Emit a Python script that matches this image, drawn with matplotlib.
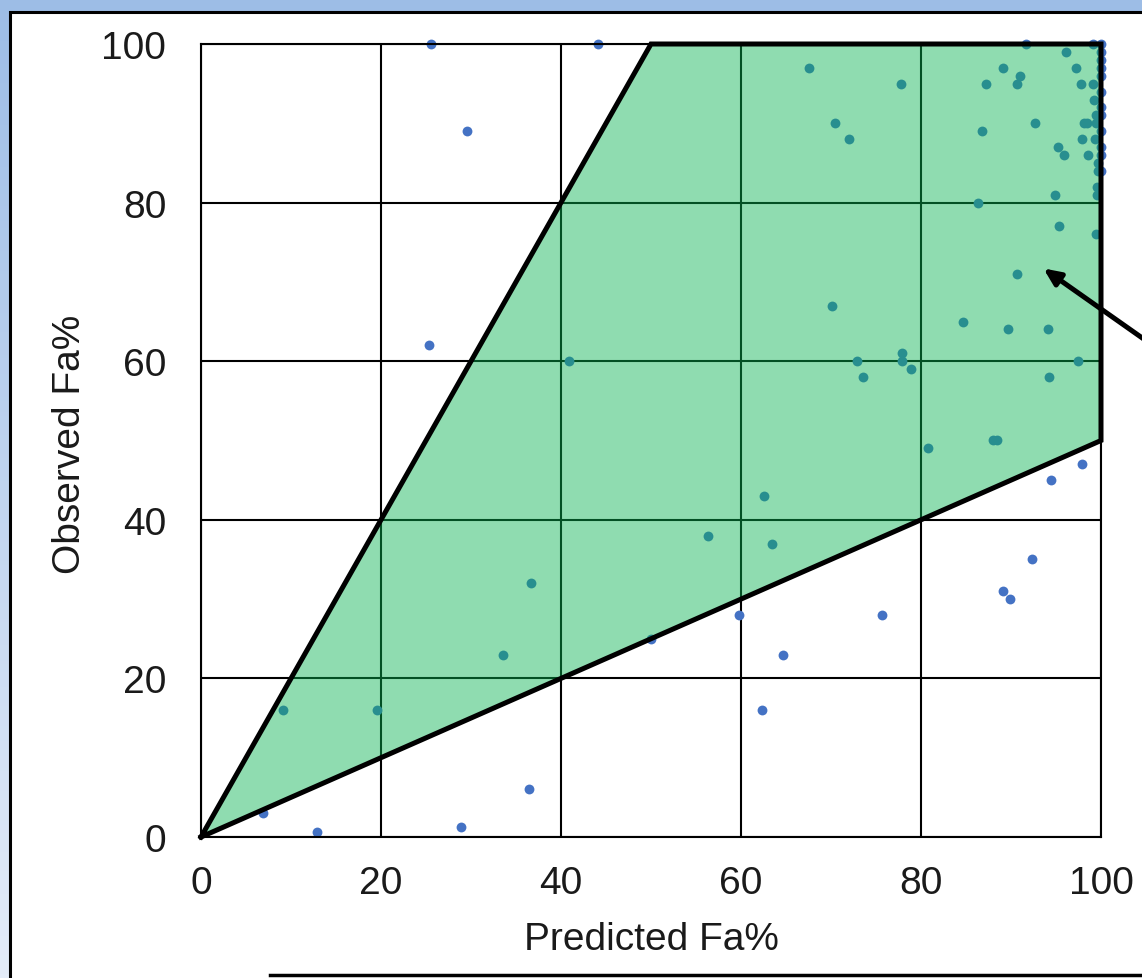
import numpy as np
import matplotlib
matplotlib.use("Agg")
import matplotlib.pyplot as plt
from matplotlib.patches import Polygon, Rectangle

plt.rcParams['font.family'] = ['Liberation Sans', 'DejaVu Sans']

# ---- data ----
predicted = [25.6, 44.1, 29.6, 25.3, 6.9, 12.9, 28.9, 36.4, 59.8, 62.3, 64.7, 75.7,
             89.1, 89.9, 92.3, 94.4, 97.9, 50.0,
             9.1, 19.6, 33.6, 36.7, 40.9, 56.3, 62.6, 63.4,
             67.6, 70.4, 72.0, 77.8,
             70.1, 72.9, 73.6, 77.9, 77.9, 78.9, 80.8, 84.7, 88.0, 88.4, 89.7, 94.1, 94.2, 97.4, 90.7,
             86.3, 94.9, 95.3, 99.4,
             91.7, 96.1, 89.1, 91.0, 90.7, 87.2, 97.2, 97.8, 99.1, 99.1, 99.2, 92.7, 86.8, 98.1, 98.4,
             99.4, 99.4, 97.9, 99.3, 95.2, 95.9, 98.6, 99.7, 99.7, 99.6, 99.6,
             100, 100, 100, 100, 100, 100, 100, 100, 100, 100, 100, 100]
observed = [100, 100, 89, 62, 3, 0.6, 1.3, 6, 28, 16, 23, 28,
            31, 30, 35, 45, 47, 25,
            16, 16, 23, 32, 60, 38, 43, 37,
            97, 90, 88, 95,
            67, 60, 58, 61, 60, 59, 49, 65, 50, 50, 64, 64, 58, 60, 71,
            80, 81, 77, 76,
            100, 99, 97, 96, 95, 95, 97, 95, 100, 95, 93, 90, 89, 90, 90,
            91, 90, 88, 88, 87, 86, 86, 85, 84, 82, 81,
            100, 99, 98, 97, 96, 94, 92, 91, 89, 87, 86, 84]

region_x = [0, 50, 100, 100, 0]
region_y = [0, 100, 100, 50, 0]

ticks = [0, 20, 40, 60, 80, 100]
tick_labels = ['0', '20', '40', '60', '80', '100']

W, H = 1142, 979
fig = plt.figure(figsize=(W / 100, H / 100), dpi=100)

# background gradient + white panel
bg = fig.add_axes([0, 0, 1, 1], zorder=-10)
bg.set_xlim(0, 1); bg.set_ylim(0, 1); bg.axis('off')
top = np.array([157, 189, 230]) / 255
bot = np.array([228, 236, 249]) / 255
t = np.linspace(0, 1, 256)[:, None]
grad = (top[None, :] * (1 - t) + bot[None, :] * t)[:, None, :]
bg.imshow(grad, extent=[0, 1, 0, 1], aspect='auto', origin='upper')
bg.add_patch(Rectangle((10 / W, -0.1), 1.2, 1 - 13 / H + 0.1, transform=fig.transFigure,
                       facecolor='white', edgecolor='black', lw=2.2, clip_on=False))
bg.plot([270 / W, 1.05], [1 - 976 / H, 1 - 976 / H], color='black', lw=2.5,
        transform=fig.transFigure, clip_on=False)

ax = fig.add_axes([201 / W, 1 - 838 / H, 900 / W, (838 - 45) / H])
ax.set_xlim(0, 100)
ax.set_ylim(0, 100)
ax.set_xticks(ticks)
ax.set_yticks(ticks)
ax.set_xticklabels(tick_labels)
ax.set_yticklabels(tick_labels)
ax.tick_params(length=0, labelsize=28, colors='#1a1a1a')
ax.tick_params(axis='x', pad=20)
ax.tick_params(axis='y', pad=25)
ax.grid(True, color='black', lw=1.5, zorder=1)
ax.set_axisbelow(True)
for s in ax.spines.values():
    s.set_linewidth(1.5)
    s.set_color('black')

ax.scatter(predicted, observed, s=50, color='#4472c4', zorder=2, clip_on=False, linewidths=0)

ax.add_patch(Polygon(list(zip(region_x, region_y)), closed=True,
                     facecolor=(7 / 255, 178 / 255, 80 / 255, 0.45),
                     edgecolor='none', zorder=3))
ax.plot(region_x, region_y, color='black', lw=3.6, zorder=4, clip_on=False,
        solid_joinstyle='miter')

ax.annotate('', xy=(93.6, 71.7), xytext=(108.5, 59.8), xycoords='data',
            arrowprops=dict(arrowstyle='-|>,head_length=1.0,head_width=0.45',
                            color='black', lw=3.6, shrinkA=0, shrinkB=0),
            annotation_clip=False, zorder=6)

ax.set_xlabel('Predicted Fa%', fontsize=28, color='#1a1a1a')
ax.set_ylabel('Observed Fa%', fontsize=28, color='#1a1a1a')
ax.xaxis.set_label_coords(0.5, -0.106)
ax.yaxis.set_label_coords(-0.1256, 0.496)

fig.savefig('out.png', dpi=100)
